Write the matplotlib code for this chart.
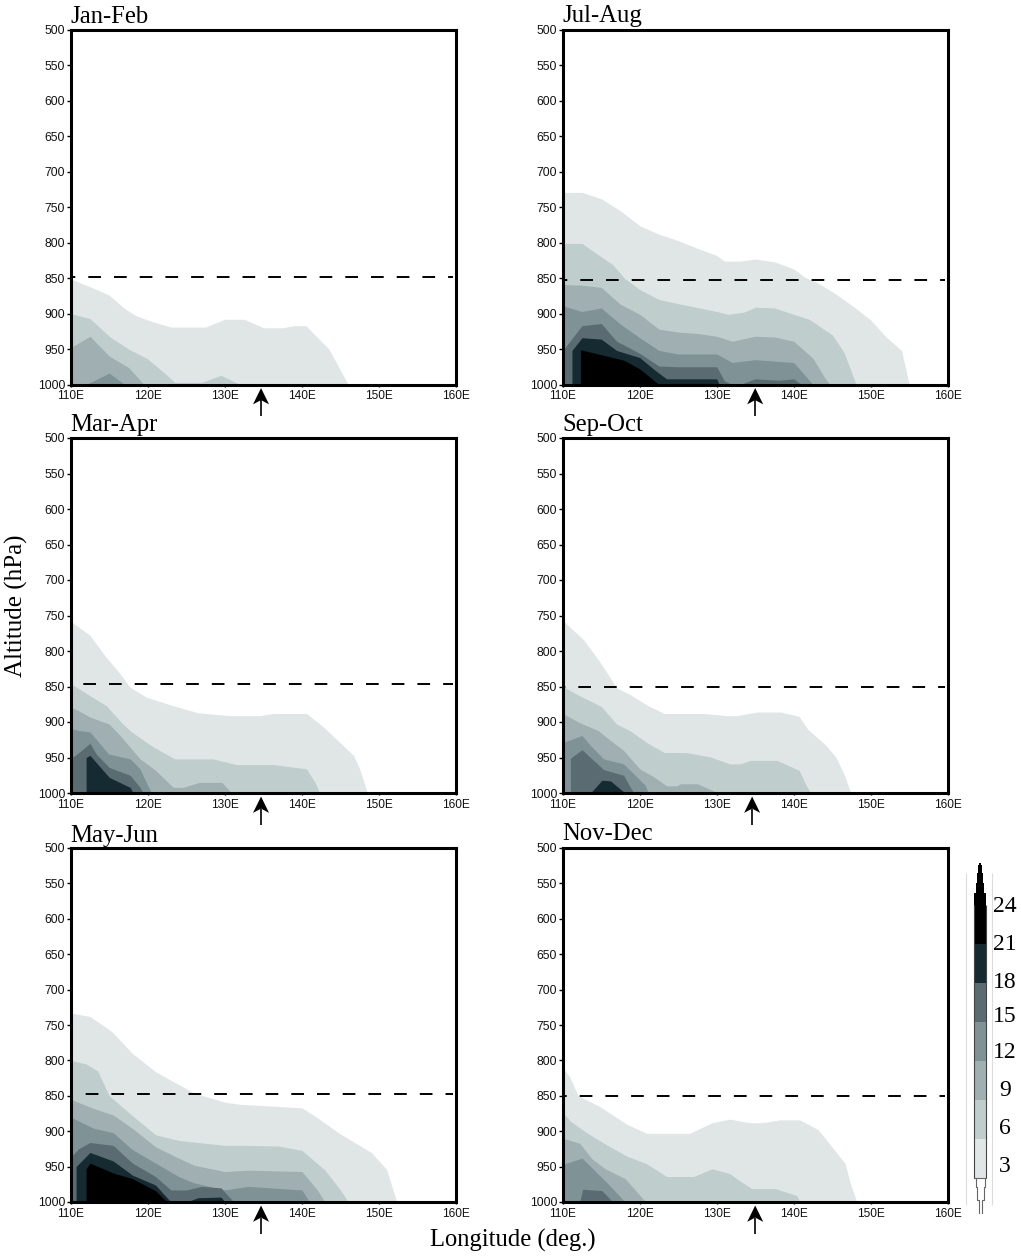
import matplotlib
matplotlib.use("Agg")
import matplotlib.pyplot as plt

plt.rcParams['lines.scale_dashes'] = False
SERIF = 'Liberation Serif'
SANS = 'Liberation Sans'
W, H = 1021, 1257

LEVELS = [3, 6, 9, 12, 15, 18, 21]
COLORS = ['#e0e6e6', '#c0cdcd', '#9fafb2', '#7f9295', '#5a6c72', '#162a31', '#000000']
PRESSURE_TICKS = [500, 550, 600, 650, 700, 750, 800, 850, 900, 950, 1000]
LON_TICKS = [110, 120, 130, 140, 150, 160]
LON_LABELS = ['110E', '120E', '130E', '140E', '150E', '160E']

# Jan-Feb
JF_LON_3 = [110, 112.5, 115, 117, 118.5, 120.5, 123, 127.5, 130, 132.5, 135, 137.5, 139, 140.5, 143.5, 146]
JF_P_3 = [851, 862, 874, 893, 903, 911, 919, 919, 908, 908, 920, 920, 917, 917, 950, 1000]
JF_LON_6 = [110, 112.5, 115, 117.5, 120, 122.5, 123.5, 127, 129.5, 131, 132]
JF_P_6 = [900, 907, 932, 950, 964, 987, 997, 997, 987, 995, 1000]
JF_LON_9 = [110, 112.5, 115, 117.5, 119.5]
JF_P_9 = [948, 932, 960, 976, 1000]
JF_LON_12 = [112, 115, 117]
JF_P_12 = [1000, 984, 1000]

# Mar-Apr
MA_LON_3 = [110, 112.5, 114.4, 116.4, 117.7, 119.8, 123.3, 126.5, 130.6, 134.5, 136.3, 140.6, 142.8, 146.7, 147.5, 148.5]
MA_P_3 = [758, 778, 806, 832, 851, 865, 877, 887, 891, 891, 888, 888, 907, 947, 966, 1000]
MA_LON_6 = [110, 112.5, 114.6, 116.8, 117.9, 120.7, 123.5, 128.5, 131.5, 136.3, 140.6, 141.7, 142.3]
MA_P_6 = [846, 863, 877, 903, 914, 935, 952, 952, 960, 960, 966, 985, 1000]
MA_LON_9 = [110, 111, 112.5, 115, 116.4, 119, 121, 123.3, 124.6, 126.7, 129.6, 130.9]
MA_P_9 = [879, 884, 893, 903, 919, 952, 968, 992, 992, 985, 985, 1000]
MA_LON_12 = [110, 111, 112.5, 114.9, 117.7, 119, 119.8, 120.5]
MA_P_12 = [909, 912, 914, 945, 952, 966, 985, 1000]
MA_LON_15 = [110, 110.6, 112.5, 113.3, 115, 117.7, 119, 119.4]
MA_P_15 = [951, 947, 930, 945, 964, 975, 992, 1000]
MA_LON_18 = [112, 112, 112.5, 115, 117.7, 118.1]
MA_P_18 = [1000, 950, 947, 978, 992, 1000]

# May-Jun
MJ_LON_3 = [110, 112.5, 115.3, 118, 121, 123, 126, 130, 132, 140, 142, 145, 149, 151, 152.3]
MJ_P_3 = [733, 738, 759, 790, 816, 828, 846, 859, 862, 867, 881, 904, 930, 954, 1000]
MJ_LON_6 = [110, 112, 113.5, 115, 118, 121, 124, 130, 133, 137, 140, 143, 145, 146]
MJ_P_6 = [800, 805, 815, 850, 878, 905, 913, 920, 920, 921, 927, 955, 983, 1000]
MJ_LON_9 = [110, 113, 115.5, 118, 121, 124, 126, 130, 133, 140, 142, 143]
MJ_P_9 = [855, 868, 877, 896, 922, 938, 948, 957, 955, 957, 983, 1000]
MJ_LON_12 = [110, 113, 115.5, 118, 121, 124, 126, 130, 133, 140, 141]
MJ_P_12 = [880, 896, 902, 926, 945, 964, 973, 983, 978, 983, 1000]
MJ_LON_15 = [110, 111, 112.5, 115.5, 118, 121, 123, 125, 127, 129.5, 131, 132]
MJ_P_15 = [937, 925, 916, 920, 945, 964, 983, 983, 978, 980, 998, 1000]
MJ_LON_18A = [110.7, 110.7, 112.5, 115.5, 118, 121, 123]
MJ_P_18A = [1000, 950, 930, 942, 962, 976, 1000]
MJ_LON_18B = [125, 126.5, 129.5, 130]
MJ_P_18B = [1000, 994, 993, 1000]
MJ_LON_21 = [112, 112, 112.5, 115.5, 118, 121, 122.5]
MJ_P_21 = [1000, 953, 945, 959, 967, 984, 1000]

# Jul-Aug
JA_LON_3 = [110, 112.5, 115, 117.5, 120, 122.5, 125, 127.5, 130, 131, 133, 135, 137.5, 140, 141.5, 143, 145, 147.5, 150, 152, 154, 155]
JA_P_3 = [729, 729, 738, 755, 776, 788, 797, 808, 818, 826, 826, 823, 827, 837, 849, 856, 869, 888, 909, 933, 952, 1000]
JA_LON_6 = [110, 112.5, 115, 116.5, 118, 120, 122.5, 125, 130, 131.5, 133.5, 135, 137.5, 140, 142, 145, 146.5, 148, 148.2]
JA_P_6 = [801, 801, 820, 831, 850, 866, 880, 886, 897, 901, 898, 891, 892, 901, 908, 930, 954, 997, 1000]
JA_LON_9 = [110, 112.5, 115, 117.5, 120, 122.5, 125, 127.5, 130, 132, 135, 137.5, 140, 142.5, 144, 144.7]
JA_P_9 = [859, 860, 863, 887, 901, 922, 926, 928, 932, 939, 932, 933, 939, 963, 990, 1000]
JA_LON_12 = [110, 112.5, 115, 117.5, 120, 122.5, 125, 130, 132, 135, 140, 142.5]
JA_P_12 = [889, 897, 892, 915, 934, 952, 957, 957, 969, 965, 969, 1000]
JA_LON_15A = [110, 112.5, 115, 117, 120, 122.5, 125, 130, 131, 132]
JA_P_15A = [952, 917, 914, 939, 956, 974, 975, 975, 995, 1000]
JA_LON_15B = [133, 135, 138, 140, 141]
JA_P_15B = [1000, 992, 994, 992, 1000]
JA_LON_18 = [111.2, 111.2, 112.5, 115, 117, 120, 122, 123.5, 130, 130.3]
JA_P_18 = [1000, 952, 934, 936, 952, 962, 980, 992, 992, 1000]
JA_LON_21 = [112.3, 112.3, 115, 118, 120, 122.5]
JA_P_21 = [1000, 951, 958, 966, 978, 1000]

# Sep-Oct
SO_LON_3 = [110, 112.7, 114.6, 115.9, 117, 118.7, 121.1, 123.2, 128.3, 131.3, 132.6, 135.2, 138.3, 140.7, 141.8, 144.2, 145.5, 146.6, 147.4]
SO_P_3 = [757, 784, 812, 833, 852, 861, 877, 888, 888, 891, 891, 886, 886, 892, 910, 933, 950, 975, 1000]
SO_LON_6 = [110, 112.2, 115, 117, 118.7, 120.9, 123.2, 126, 129.1, 131.7, 133, 134.4, 137.8, 140.7, 141.6, 142.2]
SO_P_6 = [850, 863, 878, 903, 912, 929, 943, 943, 949, 959, 959, 954, 954, 968, 989, 1000]
SO_LON_9 = [110, 112.2, 114.6, 116.2, 117.9, 120, 121.8, 123.5, 124.8, 125.3, 127.5, 129.6, 129.8]
SO_P_9 = [888, 901, 912, 926, 940, 966, 977, 990, 990, 987, 987, 997, 1000]
SO_LON_12 = [110, 112.5, 113.6, 115.3, 117.9, 119.4, 120.7, 121.1]
SO_P_12 = [929, 919, 933, 952, 959, 975, 989, 1000]
SO_LON_15 = [111, 111, 112.5, 115.3, 117.9, 119, 119.3]
SO_P_15 = [1000, 951, 939, 967, 975, 996, 1000]
SO_LON_18 = [113.6, 115.1, 116.2, 118.1]
SO_P_18 = [1000, 982, 983, 1000]

# Nov-Dec
ND_LON_3 = [110, 110.9, 112, 114.8, 118.3, 120.9, 126.5, 129.4, 131.7, 134.3, 136, 138.2, 140.8, 143.2, 146.7, 147.3, 148.2]
ND_P_3 = [810, 823, 850, 865, 890, 903, 903, 888, 883, 888, 888, 884, 884, 898, 946, 972, 1000]
ND_LON_6 = [110, 111, 113.1, 115.5, 118.3, 120.9, 123.5, 127, 129.4, 131.7, 133, 134.5, 137.6, 140.4, 140.8]
ND_P_6 = [873, 886, 902, 918, 935, 946, 964, 964, 953, 960, 970, 981, 981, 991, 1000]
ND_LON_9 = [110, 112.2, 113.8, 115.5, 118.1, 120.8]
ND_P_9 = [910, 917, 939, 953, 967, 1000]
ND_LON_12 = [110, 112.5, 115.5, 118.1]
ND_P_12 = [947, 938, 970, 1000]
ND_LON_15 = [112.2, 112.6, 115.1, 116.5]
ND_P_15 = [1000, 982, 984, 1000]

PANEL_NAMES = ['Jan-Feb', 'Mar-Apr', 'May-Jun', 'Jul-Aug', 'Sep-Oct', 'Nov-Dec']
DASH_P = [849, 847, 847.5, 852, 850, 850]
DASH_START_PX = [17.3, 12.3, 14.7, 17.3, 15.3, 16.7]
ARROW_LON = [134.7, 134.7, 134.7, 135, 134.6, 135]
TITLE_BASE_Y = [23, 431, 842, 22, 431, 840]

PANEL_CONTOURS = [
    [(0, JF_LON_3, JF_P_3), (1, JF_LON_6, JF_P_6), (2, JF_LON_9, JF_P_9), (3, JF_LON_12, JF_P_12)],
    [(0, MA_LON_3, MA_P_3), (1, MA_LON_6, MA_P_6), (2, MA_LON_9, MA_P_9), (3, MA_LON_12, MA_P_12),
     (4, MA_LON_15, MA_P_15), (5, MA_LON_18, MA_P_18)],
    [(0, MJ_LON_3, MJ_P_3), (1, MJ_LON_6, MJ_P_6), (2, MJ_LON_9, MJ_P_9), (3, MJ_LON_12, MJ_P_12),
     (4, MJ_LON_15, MJ_P_15), (5, MJ_LON_18A, MJ_P_18A), (5, MJ_LON_18B, MJ_P_18B), (6, MJ_LON_21, MJ_P_21)],
    [(0, JA_LON_3, JA_P_3), (1, JA_LON_6, JA_P_6), (2, JA_LON_9, JA_P_9), (3, JA_LON_12, JA_P_12),
     (4, JA_LON_15A, JA_P_15A), (4, JA_LON_15B, JA_P_15B), (5, JA_LON_18, JA_P_18), (6, JA_LON_21, JA_P_21)],
    [(0, SO_LON_3, SO_P_3), (1, SO_LON_6, SO_P_6), (2, SO_LON_9, SO_P_9), (3, SO_LON_12, SO_P_12),
     (4, SO_LON_15, SO_P_15), (5, SO_LON_18, SO_P_18)],
    [(0, ND_LON_3, ND_P_3), (1, ND_LON_6, ND_P_6), (2, ND_LON_9, ND_P_9), (3, ND_LON_12, ND_P_12),
     (4, ND_LON_15, ND_P_15)],
]

# axes boxes in pixels
COL_X = [(70.7, 456.0), (562.7, 947.7)]
ROW_Y = [(30.0, 384.5), (438.0, 793.0), (848.0, 1202.0)]

fig = plt.figure(figsize=(W / 100, H / 100), dpi=100, facecolor='white')


def px_axes(x0, x1, ytop, ybot):
    return fig.add_axes([x0 / W, 1 - ybot / H, (x1 - x0) / W, (ybot - ytop) / H])


PX = 0.72  # points per pixel at dpi 100
period = 12.7 + 13.0
for i, name in enumerate(PANEL_NAMES):
    col, row = i // 3, i % 3
    x0, x1 = COL_X[col]
    yt, yb = ROW_Y[row]
    ax = px_axes(x0, x1, yt, yb)
    ax.set_xlim(110, 160)
    ax.set_ylim(1000, 500)
    for lev, lon, p in PANEL_CONTOURS[i]:
        ax.fill_between(lon, p, 1000, color=COLORS[lev], lw=0, zorder=1 + lev)
    off = (period - DASH_START_PX[i]) * PX
    ax.plot([110, 159.6], [DASH_P[i], DASH_P[i]], color='black', lw=1.4,
            linestyle=(off, (12.7 * PX, 13.0 * PX)), zorder=20)
    ax.set_xticks(LON_TICKS)
    ax.set_xticklabels(LON_LABELS, fontfamily=SANS, fontsize=8.6)
    ax.set_yticks(PRESSURE_TICKS)
    ax.set_yticklabels([str(v) for v in PRESSURE_TICKS], fontfamily=SANS, fontsize=8.8)
    ax.tick_params(axis='x', length=1.5, width=1, pad=2.5, color='black', labelcolor='#111111')
    ax.tick_params(axis='y', length=3, width=1, pad=1, color='black', labelcolor='#111111')
    for s in ax.spines.values():
        s.set_linewidth(2.2)
        s.set_zorder(30)
    lon = ARROW_LON[i]
    ax.plot([lon, lon], [1022, 1045], color='black', lw=1.2, clip_on=False, solid_capstyle='butt')
    ax.fill([lon, lon + 1.04, lon, lon - 1.04], [1005, 1028, 1022, 1028], color='black', lw=0, clip_on=False)
    fig.text(x0 / W, 1 - TITLE_BASE_Y[i] / H, name, fontfamily=SERIF, fontsize=17.8, ha='left', va='baseline')

fig.text(16 / W, 1 - 606 / H, 'Altitude (hPa)', fontfamily=SERIF, fontsize=18, rotation=90, ha='center', va='center')
fig.text(513 / W, 1 - 1240 / H, 'Longitude (deg.)', fontfamily=SERIF, fontsize=17.7, ha='center', va='center')

# colour key: values on the vertical, pixels on the horizontal
KEY_LABELS = ['24', '21', '18', '15', '12', '9', '6', '3']
KEY_LABEL_Y = [907, 945, 982, 1016, 1052, 1090, 1128, 1167]
TIP_V = [24, 24.9, 25.7, 26.5, 27.1]
TIP_W = [12, 8.5, 6, 4, 2]
TAIL_V = [3, 2.33, 1.3, 0.3]
TAIL_W = [12, 9, 7, 3]
cax = px_axes(960, 995, 860, 1215)
cax.set_xlim(960, 995)
cax.set_ylim(3 - 37 / 13, 24 + 45 / 13)
cax.axis('off')
XC = 980
for v, c in zip(LEVELS, COLORS):
    cax.bar(XC, 3, width=12, bottom=v, color=c, lw=0, zorder=2)
for j, (v, w) in enumerate(zip(TIP_V, TIP_W)):
    top = TIP_V[j + 1] if j + 1 < len(TIP_V) else v + 0.1
    cax.bar(XC, top - v, width=w, bottom=v, color='black', lw=0, zorder=2)
cax.vlines([XC - 6, XC + 6], 3, 24, color='#444444', lw=0.8, zorder=3)
for side in (-1, 1):
    xs = [XC + side * w / 2 for w in TAIL_W]
    cax.plot(xs, TAIL_V, color='#666666', lw=0.8, drawstyle='steps-post', zorder=3)
cax.hlines(3, XC - 6, XC + 6, color='#666666', lw=0.8, zorder=3)
cax.vlines([966, 992], 0.9, 26.5, color='#dcdcdc', lw=0.8, zorder=1)
for lab, y in zip(KEY_LABELS, KEY_LABEL_Y):
    fig.text(1005 / W, 1 - y / H, lab, fontfamily=SERIF, fontsize=17, ha='center', va='center')

fig.savefig('out.png', dpi=100, facecolor='white')
